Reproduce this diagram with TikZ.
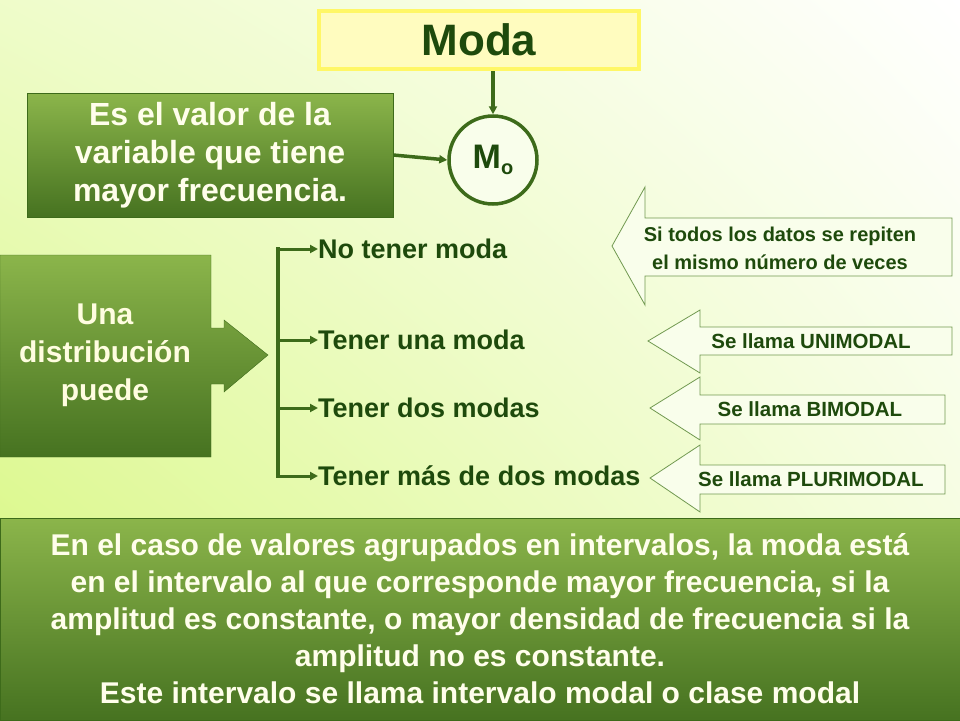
\documentclass[tikz,border=0pt]{standalone}
\usepackage{fontspec}
\setmainfont{Liberation Sans}
\usetikzlibrary{positioning,calc,arrows.meta,shadings}
\definecolor{leaf}{HTML}{4E7F24}
\definecolor{dleaf}{HTML}{3D6B1A}
\definecolor{ink}{HTML}{1E4A0C}
\definecolor{lime}{HTML}{D6F77A}
\tikzstyle{greenbox} = [rectangle, draw=dleaf, top color=leaf!55!lime, bottom color=leaf!90!black, text=white!92!yellow, font=\bfseries, align=center, inner sep=0pt]
\tikzstyle{item} = [anchor=west, text=ink, font=\fontsize{27}{30}\bfseries\selectfont, inner sep=0pt]
\tikzstyle{callout} = [draw=leaf!80, fill=white!85!lime, line width=0.8pt]
\tikzstyle{ctext} = [text=ink, font=\fontsize{20.5}{24}\bfseries\selectfont, align=center, inner sep=0pt]
\tikzstyle{link} = [-{Triangle[length=8pt,width=8pt]}, draw=dleaf, line width=3.5pt]
\begin{document}
\begin{tikzpicture}[x=1pt,y=-1pt]
	\shade[lower left=lime, upper right=white, lower right=white!70!lime, upper left=white!60!lime] (0,0) rectangle (960,720);
	\useasboundingbox (0,0) rectangle (960,720);
	
	\node[draw=yellow!60, line width=4pt, fill=yellow!25, minimum width=320pt, minimum height=58pt, font=\fontsize{44}{48}\bfseries\selectfont, text=ink] (moda) at (479,40) {Moda};
	\node[draw=dleaf, line width=3.5pt, circle, fill=white!85!lime, minimum size=88pt, font=\fontsize{34}{36}\bfseries\selectfont, text=ink] (mo) at (493,160) {M\raisebox{-6pt}{\fontsize{20}{22}\selectfont o}};
	\node[greenbox, minimum width=366pt, minimum height=124pt, font=\fontsize{32}{38}\bfseries\selectfont] (def) at (210,155) {Es el valor de la\\variable que tiene\\mayor frecuencia.};
	
	\draw[link] (moda.south -| mo) -- (mo.north);
	\draw[link] (def.east) -- (mo.west);
	
	% distribution box with its arrow
	\shade[top color=leaf!55!lime, bottom color=leaf!90!black, draw=dleaf] (0,255) -- (211,255) -- (211,328) -- (224,328) -- (224,320) -- (268,355) -- (224,392) -- (224,384) -- (211,384) -- (211,457) -- (0,457) -- cycle;
	\node[align=center, text=white!88!yellow, font=\fontsize{30}{38}\bfseries\selectfont] (dist) at (105,355) {Una\\distribución\\puede};
	
	\node[item] (i1) at (318,249) {No tener moda};
	\node[item] (i2) at (318,340) {Tener una moda};
	\node[item] (i3) at (318,408) {Tener dos modas};
	\node[item] (i4) at (318,476) {Tener más de dos modas};
	\draw[draw=dleaf, line width=3.5pt] ($(i1.west)+(-40,-1.75)$) -- ($(i4.west)+(-40,1.75)$);
	\foreach \n in {i1,i2,i3,i4}
		\draw[link, line width=3pt] ($(\n.west)+(-41.75,0)$) -- (\n.west);
	
	% callouts
	\draw[callout] (952,218) -- (645,218) -- (645,187) -- (612,246) -- (645,305) -- (645,276) -- (952,276) -- cycle;
	\draw[callout] (952,327) -- (700,327) -- (700,310) -- (648,341) -- (700,373) -- (700,355) -- (952,355) -- cycle;
	\draw[callout] (945,395) -- (700,395) -- (700,377) -- (650,408) -- (700,440) -- (700,424) -- (945,424) -- cycle;
	\draw[callout] (945,465) -- (700,465) -- (700,445) -- (650,478) -- (700,512) -- (700,494) -- (945,494) -- cycle;
	\node[ctext, font=\fontsize{20}{28}\bfseries\selectfont] (c1) at (780,248) {Si todos los datos se repiten\\el mismo número de veces};
	\node[ctext] (c2) at (811,341) {Se llama UNIMODAL};
	\node[ctext] (c3) at (810,409) {Se llama BIMODAL};
	\node[ctext] (c4) at (811,479) {Se llama PLURIMODAL};
	
	\node[greenbox, minimum width=960pt, minimum height=202pt, font=\fontsize{30}{37}\bfseries\selectfont] (note) at (480,619) {En el caso de valores agrupados en intervalos, la moda está\\en el intervalo al que corresponde mayor frecuencia, si la\\amplitud es constante, o mayor densidad de frecuencia si la\\amplitud no es constante.\\Este intervalo se llama intervalo modal o clase modal};
\end{tikzpicture}
\end{document}
